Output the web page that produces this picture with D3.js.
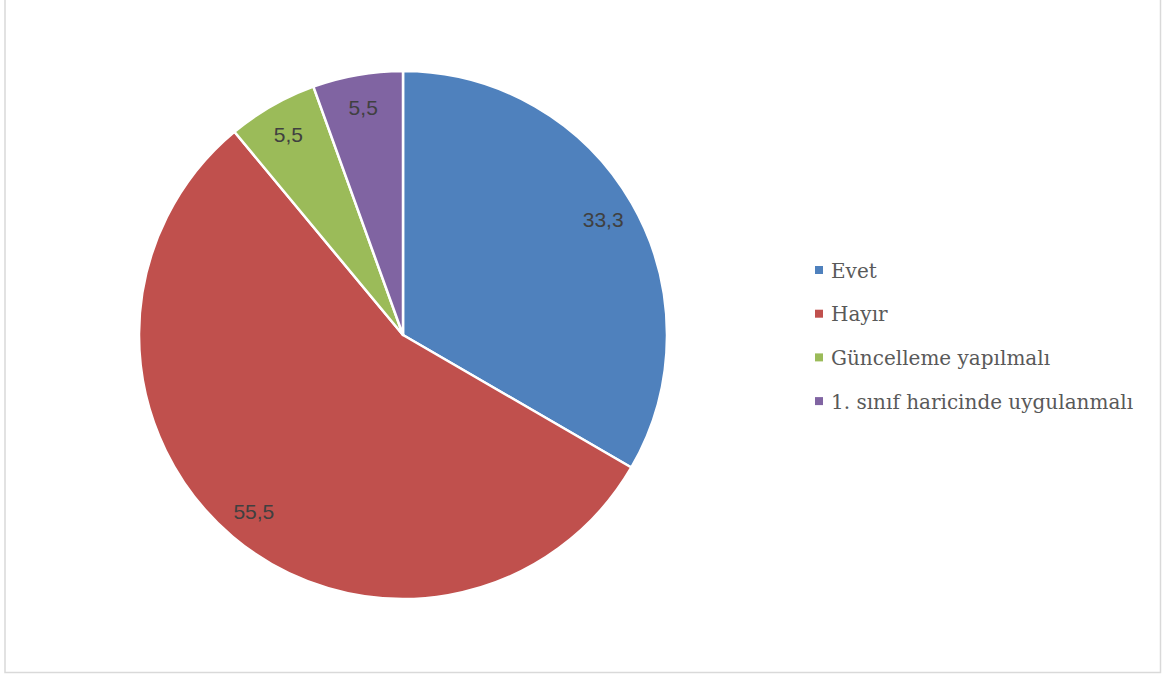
<!DOCTYPE html>
<html>
<head>
<meta charset="utf-8">
<script src="https://cdn.jsdelivr.net/npm/d3@7"></script>
<style>
  html, body { margin: 0; padding: 0; background: #fff; }
  svg { display: block; }
</style>
</head>
<body>
<svg id="chart" width="1168" height="676"></svg>
<script>
// Survey answers (percent)
const categories = ["Evet", "Hayır", "Güncelleme yapılmalı", "1. sınıf haricinde uygulanmalı"];
const values = [33.3, 55.5, 5.5, 5.5];
const valueLabels = ["33,3", "55,5", "5,5", "5,5"];
const colors = ["#4F81BD", "#C0504D", "#9BBB59", "#8064A2"];

const svg = d3.select("#chart");

// Chart frame (open at the top edge)
svg.append("path")
  .attr("d", "M5,0 V672.5 H1160.5 V0")
  .attr("fill", "none")
  .attr("stroke", "#D9D9D9")
  .attr("stroke-width", 1.5);

const cx = 403, cy = 335, R = 264;
const g = svg.append("g").attr("transform", `translate(${cx},${cy})`);

const pie = d3.pie().sort(null).value(d => d)(values);
const arc = d3.arc().innerRadius(0).outerRadius(R);
const labelArc = d3.arc().innerRadius(R * 0.875).outerRadius(R * 0.875);

g.selectAll("path.slice")
  .data(pie)
  .join("path")
  .attr("class", "slice")
  .attr("d", arc)
  .attr("fill", (d, i) => colors[i])
  .attr("stroke", "#fff")
  .attr("stroke-width", 2.5)
  .attr("stroke-linejoin", "round");

g.selectAll("text.val")
  .data(pie)
  .join("text")
  .attr("class", "val")
  .attr("transform", d => `translate(${labelArc.centroid(d)})`)
  .attr("text-anchor", "middle")
  .attr("y", 7.5)
  .attr("font-family", "'Liberation Sans', Arial, sans-serif")
  .attr("font-size", 21)
  .attr("fill", "#404040")
  .text((d, i) => valueLabels[i]);

// Legend
const lg = svg.append("g").attr("transform", "translate(815,270)");
const rows = lg.selectAll("g").data(categories).join("g")
  .attr("transform", (d, i) => `translate(0,${i * 43.7})`);
rows.append("rect")
  .attr("x", 0).attr("y", -4).attr("width", 8).attr("height", 8)
  .attr("fill", (d, i) => colors[i]);
rows.append("text")
  .attr("x", 16)
  .attr("y", 7.5)
  .attr("font-family", "'DejaVu Serif', 'Liberation Serif', serif")
  .attr("font-size", 20)
  .attr("fill", "#595959")
  .text(d => d);
</script>
</body>
</html>
